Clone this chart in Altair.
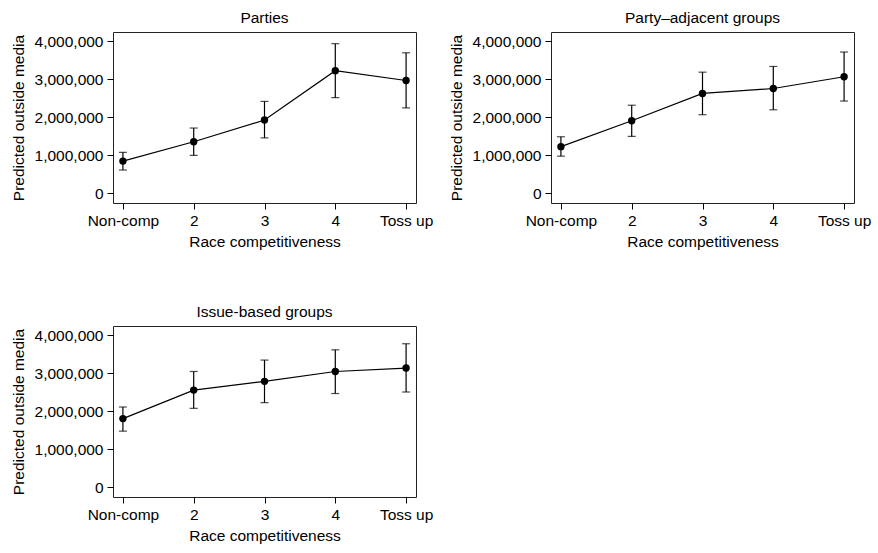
import altair as alt
import pandas as pd

categories = ["Non-comp", "2", "3", "4", "Toss up"]

parties_est = [840000, 1350000, 1920000, 3220000, 2960000]
parties_lo = [605000, 990000, 1450000, 2510000, 2240000]
parties_hi = [1070000, 1710000, 2410000, 3930000, 3690000]

adjacent_est = [1220000, 1900000, 2620000, 2750000, 3060000]
adjacent_lo = [970000, 1490000, 2060000, 2190000, 2420000]
adjacent_hi = [1480000, 2310000, 3180000, 3330000, 3710000]

issue_est = [1800000, 2550000, 2780000, 3040000, 3130000]
issue_lo = [1470000, 2070000, 2220000, 2460000, 2500000]
issue_hi = [2105000, 3040000, 3340000, 3610000, 3770000]

titles = ["Parties", "Party\u2013adjacent groups", "Issue-based groups"]

FONT = "Liberation Sans"
FS = 15.5
YSCALE = alt.Scale(domain=[-263000, 4237000], nice=False, zero=False)
YTITLE = "Predicted outside media"


def yaxis():
    return alt.Axis(values=[0, 1000000, 2000000, 3000000, 4000000],
                    labelExpr="format(datum.value, ',')", domain=False, grid=False,
                    tickColor="black", tickSize=6, labelColor="black",
                    labelFontSize=FS, labelFont=FONT, titleFont=FONT,
                    titleFontSize=FS, titleFontWeight="normal",
                    titleColor="black", labelPadding=4, titlePadding=8)


def panel(title, est, lo, hi):
    df = pd.DataFrame({"cat": categories, "est": est, "lo": lo, "hi": hi})
    x = alt.X("cat:O", sort=categories, title="Race competitiveness",
              scale=alt.Scale(type="point", padding=0.14),
              axis=alt.Axis(labelAngle=0, domain=False, tickColor="black",
                            tickSize=6, labelColor="black", labelFontSize=FS,
                            labelFont=FONT, titleFont=FONT, titleFontSize=FS,
                            titleFontWeight="normal", titleColor="black",
                            labelPadding=4, titlePadding=6))
    y = alt.Y("est:Q", title=YTITLE, scale=YSCALE, axis=yaxis())
    ylo = alt.Y("lo:Q", title=YTITLE, scale=YSCALE, axis=yaxis())
    yhi = alt.Y("hi:Q", title=YTITLE, scale=YSCALE, axis=yaxis())
    base = alt.Chart(df)
    line = base.mark_line(color="black", strokeWidth=1.2).encode(x=x, y=y)
    pts = base.mark_point(filled=True, color="black", size=55, opacity=1).encode(x=x, y=y)
    bars = base.mark_rule(color="black", strokeWidth=1.2).encode(x=x, y=ylo, y2="hi:Q")
    cap_lo = base.mark_tick(color="black", size=8, thickness=1.2).encode(x=x, y=ylo)
    cap_hi = base.mark_tick(color="black", size=8, thickness=1.2).encode(x=x, y=yhi)
    return alt.layer(line, bars, cap_lo, cap_hi, pts).properties(
        width=303, height=171,
        title=alt.TitleParams(title, font=FONT, fontSize=FS, fontWeight="normal",
                              color="black", offset=6))


p1 = panel(titles[0], parties_est, parties_lo, parties_hi)
p2 = panel(titles[1], adjacent_est, adjacent_lo, adjacent_hi)
p3 = panel(titles[2], issue_est, issue_lo, issue_hi)

chart = alt.vconcat(alt.hconcat(p1, p2, spacing=14), p3, spacing=53).properties(
    padding={"left": 10, "top": 10, "right": 5, "bottom": 5}
).configure(background="white").configure_view(stroke="#222222", strokeWidth=1)

chart.save("out.html", embed_options={"renderer": "svg", "actions": False})
